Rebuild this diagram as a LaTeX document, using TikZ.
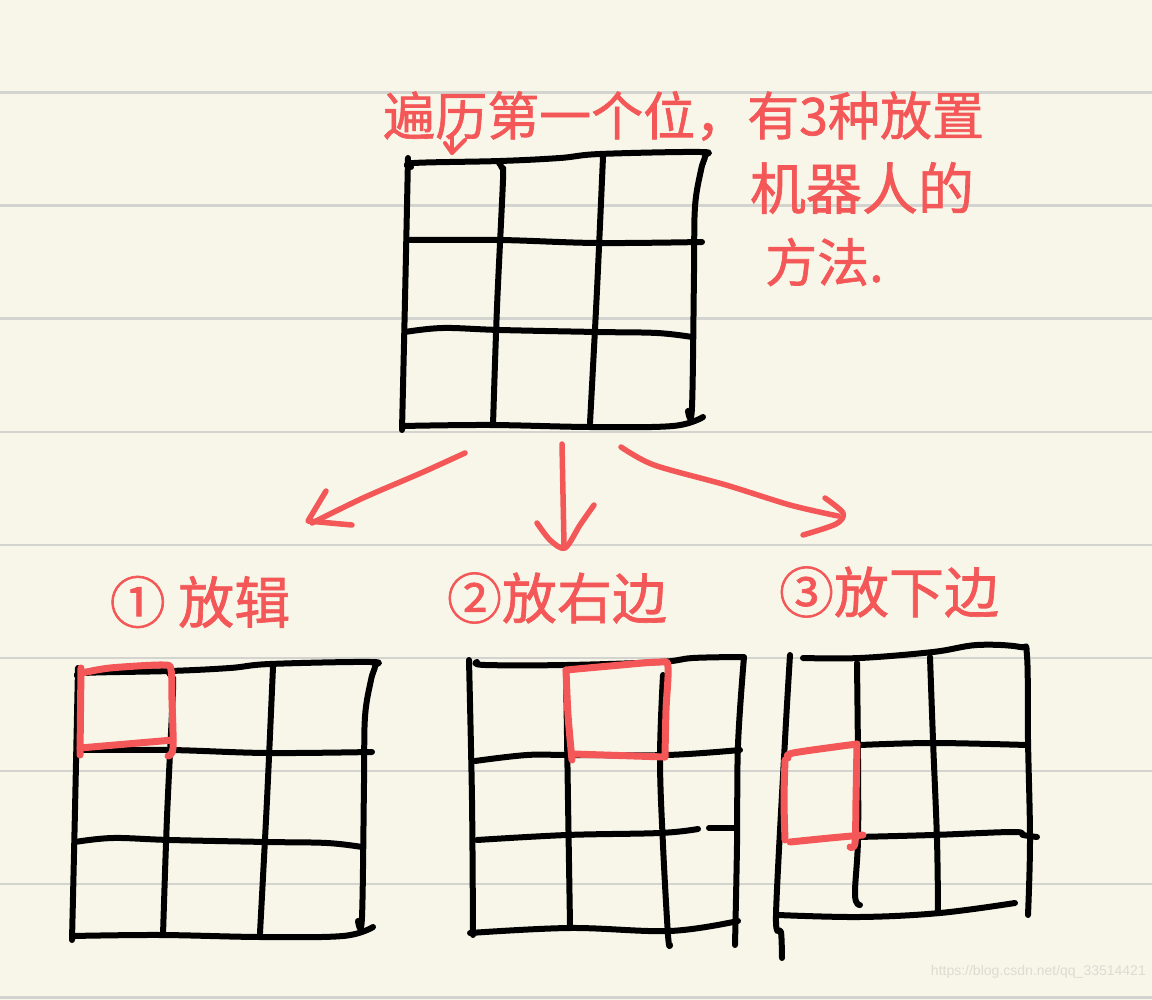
\documentclass[tikz,border=0pt]{standalone}
\usepackage{fontspec}
\setmainfont{Liberation Sans}
\newfontfamily\cjk[FakeBold=1.2]{Noto Sans CJK SC}
\definecolor{paper}{HTML}{F8F6E9}
\definecolor{ruleline}{HTML}{D3D3D0}
\definecolor{pen}{HTML}{F45757}
\definecolor{wmark}{HTML}{DDDBD2}
\newcommand\gridtop{%
  \draw[ink] plot[smooth] coordinates {(408,158) (405,300) (402,430)};
  \draw[ink] plot[smooth,tension=0.6] coordinates {(411,167) (414,163) (500,161) (560,158) (600,154) (700,152) (705,156) (701,170) (695,207) (694,273) (692,407) (688,411)};
  \draw[ink] plot[smooth] coordinates {(499,163) (502,168) (503,180) (497,307) (493,425)};
  \draw[ink] plot[smooth] coordinates {(603,157) (597,290) (590,423)};
  \draw[ink] plot[smooth,tension=0.6] coordinates {(410,240) (500,240) (597,243) (702,242)};
  \draw[ink] plot[smooth,tension=0.6] coordinates {(405,332) (443,328) (500,330) (597,332) (657,333) (692,337)};
  \draw[ink] plot[smooth,tension=0.6] coordinates {(402,426) (490,425) (590,427) (673,426) (703,417)};
}
\begin{document}
\begin{tikzpicture}[x=1pt,y=-1pt,
  ink/.style={line width=6pt,line cap=round,line join=round,black},
  redbox/.style={line width=7pt,line cap=round,line join=round,pen},
  redpen/.style={line width=5.5pt,line cap=round,line join=round,pen},
  hand/.style={text=pen,inner sep=0pt,font=\cjk\fontsize{52pt}{52pt}\selectfont},
  label/.style={text=pen,inner sep=0pt,font=\cjk\fontsize{56pt}{56pt}\selectfont}]
% paper
\fill[paper] (0,0) rectangle (1152,1000);
\useasboundingbox (0,0) rectangle (1152,1000);
\foreach \yy in {92.5,205.6,318.7,431.8,544.9,658,771.1,884.2,997.3}
  \draw[ruleline,line width=2.5pt] (0,\yy) -- (1152,\yy);

% top grid
\gridtop
% grid 1 (copy)
\begin{scope}[shift={(-330,510)}]
\gridtop
\end{scope}
\draw[redbox] plot[smooth,tension=0.5] coordinates {(82,673) (110,668) (163,665) (171,670) (172,700) (173,748) (168,756)};
\draw[redbox] plot[smooth,tension=0.5] coordinates {(80,748) (150,742) (173,740)};
\draw[redbox] (81,668) -- (80,755);

% grid 2
\draw[ink] plot[smooth] coordinates {(469,660) (472,800) (473,935)};
\draw[ink] plot[smooth,tension=0.6] coordinates {(477,662) (485,665) (567,665) (660,662) (693,658) (743,657)};
\draw[ink] plot[smooth,tension=0.6] coordinates {(744,657) (738,745) (737,845) (735,945)};
\draw[ink] plot[smooth] coordinates {(566,670) (568,800) (570,925)};
\draw[ink] plot[smooth,tension=0.6] coordinates {(663,675) (660,758) (663,845) (668,935) (670,945)};
\draw[ink] plot[smooth,tension=0.6] coordinates {(475,761) (527,755) (570,755) (667,755) (740,750)};
\draw[ink] plot[smooth,tension=0.6] coordinates {(477,840) (567,835) (660,833) (698,829)};
\draw[ink] (709,828) -- (735,828);
\draw[ink] plot[smooth,tension=0.6] coordinates {(470,933) (570,928) (670,931) (738,921)};
\draw[redbox] plot[smooth,tension=0.5] coordinates {(566,670) (610,666) (660,662) (668,667) (666,710) (665,757)};
\draw[redbox] (665,757) -- (573,754);
\draw[redbox] plot[smooth] coordinates {(572,760) (568,715) (566,670)};

% grid 3
\draw[ink] plot[smooth,tension=0.5] coordinates {(790,655) (785,740) (776,915) (781,932) (782,958)};
\draw[ink] plot[smooth,tension=0.6] coordinates {(803,658) (860,658) (933,652) (977,645) (1020,647) (1027,656) (1028,740) (1030,840) (1028,915)};
\draw[ink] plot[smooth,tension=0.6] coordinates {(857,663) (858,760) (858,840) (855,895) (860,905)};
\draw[ink] plot[smooth,tension=0.6] coordinates {(930,657) (933,740) (937,840) (938,913)};
\draw[ink] plot[smooth,tension=0.6] coordinates {(860,745) (933,743) (1027,745)};
\draw[ink] plot[smooth,tension=0.6] coordinates {(857,837) (933,835) (1013,832) (1023,835) (1037,837)};
\draw[ink] plot[smooth,tension=0.6] coordinates {(778,915) (860,917) (940,913) (1015,903)};
\draw[redbox] plot[smooth,tension=0.5] coordinates {(788,758) (793,753) (857,744)};
\draw[redbox] plot[smooth,tension=0.5] coordinates {(857,744) (856,800) (855,843) (850,847)};
\draw[redbox] plot[smooth,tension=0.5] coordinates {(790,842) (830,838) (863,835)};
\draw[redbox] plot[smooth] coordinates {(785,760) (784,800) (785,840)};

% top texts
\node[hand,anchor=west] (t1) at (383,116) {遍历第一个位，有3种放置};
\node[hand,font=\cjk\fontsize{56pt}{56pt}\selectfont] (t2) at (862,188) {机器人的};
\node[hand,anchor=west] (t3) at (765,262) {方法.};
% small arrow
\coordinate (sa1) at (452,135);
\coordinate (sa2) at (452,153);
\draw[redpen,line width=4pt] (sa1) -- (sa2);
\draw[redpen,line width=4pt] (445,143) -- (sa2) -- (465,140);

% labels
\node[label] (l1) at (200,602) {① 放辑};
\node[label,font=\cjk\fontsize{55pt}{55pt}\selectfont] (l2) at (557,598) {②放右边};
\node[label,font=\cjk\fontsize{55pt}{55pt}\selectfont] (l3) at (889,592) {③放下边};

% arrows
\coordinate (a1s) at (465,453);
\coordinate (a1e) at (312,523);
\draw[redpen] plot[smooth] coordinates {(a1s) (421,473) (363,498) (a1e)};
\draw[redpen] (326,491) -- (308,521) -- (352,525);
\coordinate (a2s) at (562,444);
\coordinate (a2e) at (564,545);
\draw[redpen] (a2s) -- (a2e);
\draw[redpen] plot[smooth] coordinates {(537,523) (550,540) (565,548) (580,525) (594,505)};
\coordinate (a3s) at (621,447);
\coordinate (a3e) at (838,516);
\draw[redpen] plot[smooth] coordinates {(a3s) (654,465) (726,485) (790,505) (a3e)};
\draw[redpen] plot[smooth,tension=0.5] coordinates {(825,498) (843,513) (836,524) (803,535)};

% watermark
\node[text=wmark,font=\fontsize{14pt}{14pt}\selectfont,anchor=east,inner sep=0pt] (wm) at (1146,972) {https://blog.csdn.net/qq\_33514421};
\end{tikzpicture}
\end{document}
